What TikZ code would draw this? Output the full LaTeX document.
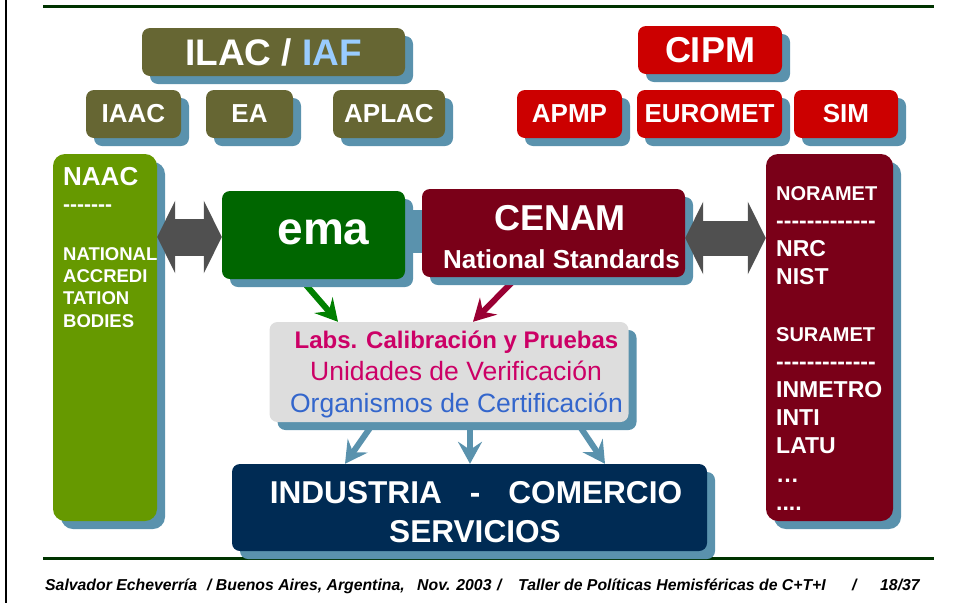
\documentclass[tikz,border=0pt]{standalone}
\usepackage{fontspec}
\setmainfont{Liberation Sans}[Ligatures=TeXOff]
\usetikzlibrary{arrows.meta,shadows,backgrounds}
\definecolor{olivebox}{RGB}{102,102,51}
\definecolor{shadowblue}{RGB}{90,146,173}
\definecolor{cipmred}{RGB}{204,0,0}
\definecolor{darkred}{RGB}{122,0,24}
\definecolor{emagreen}{RGB}{0,102,0}
\definecolor{naacgreen}{RGB}{102,153,0}
\definecolor{indnavy}{RGB}{0,43,84}
\definecolor{labgray}{RGB}{221,221,221}
\definecolor{labmagenta}{RGB}{204,0,102}
\definecolor{orgblue}{RGB}{51,102,204}
\definecolor{iafblue}{RGB}{153,204,255}
\definecolor{arrowgray}{RGB}{80,80,80}
\definecolor{rulegreen}{RGB}{0,51,0}
\definecolor{arrowgreen}{RGB}{0,128,0}
\definecolor{arrowred}{RGB}{153,0,51}
\newcommand{\fsz}[1]{\fontsize{#1}{#1}\selectfont}
\newcommand{\fourdots}{.\kern0pt.\kern0pt.\kern0pt.}
\newcommand{\fslash}{/}
\begin{document}
\begin{tikzpicture}[x=1pt,y=-1pt,
    box/.style = {rounded corners=8pt, inner sep=0pt, text=white,
                  drop shadow={shadow xshift=8pt,shadow yshift=-8pt,fill=shadowblue,opacity=1}},
    boxtext/.style = {text=white, inner sep=0pt},
    dblarrow/.style = {arrowgray, line width=#1,
                       {Triangle[length=18pt,width=72pt]}-{Triangle[length=18pt,width=72pt]}},
    arrow/.style = {line width=6pt, -{Stealth[length=22pt,width=24pt,inset=8pt]}}]
    \useasboundingbox (0,0) rectangle (956,603);

    % frame lines
    \draw[black, line width=2pt] (6,0) -- (6,603);
    \draw[rulegreen, line width=3pt] (43,6) -- (934,6);
    \draw[rulegreen, line width=3pt] (43,558) -- (934,558);

    % accreditation side
    \node[box, fill=olivebox, minimum width=263pt, minimum height=48pt, font=\bfseries\fsz{37}]
        (ilac) at (273.5,52) {ILAC / \textcolor{iafblue}{IAF}};
    \node[box, fill=olivebox, minimum width=95pt, minimum height=48pt, font=\bfseries\fsz{26}]
        (iaac) at (133.5,114) {IAAC};
    \node[box, fill=olivebox, minimum width=87pt, minimum height=48pt, font=\bfseries\fsz{26}]
        (ea) at (249.5,114) {EA};
    \node[box, fill=olivebox, minimum width=112pt, minimum height=48pt, font=\bfseries\fsz{26}]
        (aplac) at (389,114) {APLAC};

    % metrology side
    \node[box, fill=cipmred, minimum width=144pt, minimum height=48pt, font=\bfseries\fsz{36}]
        (cipm) at (710,50) {CIPM};
    \node[box, fill=cipmred, minimum width=105pt, minimum height=48pt, font=\bfseries\fsz{26}]
        (apmp) at (569.5,114) {APMP};
    \node[box, fill=cipmred, minimum width=145pt, minimum height=48pt, font=\bfseries\fsz{26}]
        (euromet) at (709.5,114) {EUROMET};
    \node[box, fill=cipmred, minimum width=104pt, minimum height=48pt, font=\bfseries\fsz{26}]
        (sim) at (846,114) {SIM};

    % main boxes
    \node[box, rounded corners=12pt, fill=naacgreen, minimum width=104pt, minimum height=367pt]
        (naac) at (105,337.5) {};
    \node[box, rounded corners=12pt, fill=darkred, minimum width=127pt, minimum height=367pt]
        (noramet) at (829.5,337.5) {};
    \node[box, fill=emagreen, minimum width=183pt, minimum height=88pt] (ema) at (313.5,235) {};
    \node[box, fill=darkred, minimum width=263pt, minimum height=88pt] (cenam) at (553.5,233) {};
    \node[box, fill=labgray, minimum width=359pt, minimum height=100pt] (labs) at (449,372) {};
    \node[box, fill=indnavy, minimum width=475pt, minimum height=87pt] (industria) at (469.5,507.5) {};

    % texts
    \node[boxtext, font=\bfseries\fsz{46}] (ematext) at (323.5,232) {ema};
    \node[boxtext, font=\bfseries\fsz{36}, anchor=base] (cenamtext) at (560,230) {CENAM};
    \node[boxtext, font=\bfseries\fsz{26}, anchor=base] (natstd) at (561.5,268) {National Standards};
    \node[inner sep=0pt, text=labmagenta, font=\bfseries\fsz{24}, anchor=base]
        (labsline) at (456.5,348) {Labs. Calibración y Pruebas};
    \node[inner sep=0pt, text=labmagenta, font=\fsz{26.5}, anchor=base]
        (uvline) at (456,380) {Unidades de Verificación};
    \node[inner sep=0pt, text=orgblue, font=\fsz{26.5}, anchor=base]
        (ocline) at (456.5,412) {Organismos de Certificación};
    \node[boxtext, font=\bfseries\fsz{31.6}, anchor=base] (indline)
        at (476,503) {INDUSTRIA\hspace{28pt}-\hspace{28pt}COMERCIO};
    \node[boxtext, font=\bfseries\fsz{31.6}, anchor=base] (servline) at (475,542) {SERVICIOS};

    \node[boxtext, font=\bfseries\fsz{26}, anchor=base west] (naactitle) at (63,185) {NAAC};
    \node[boxtext, font=\bfseries\fsz{21}, anchor=base west] (naacdash) at (63,211) {-------};
    \foreach \t [count=\i] in {NATIONAL,ACCREDI,TATION,BODIES}
        \node[boxtext, font=\bfseries\fsz{18.5}, anchor=base west] (nab-\i) at (63,{237.6+22.4*\i}) {\t};

    \foreach \t/\s [count=\i from 0] in {NORAMET/20,{-------------}/23,NRC/23,NIST/23,{}/23,
            SURAMET/20,{-------------}/23,INMETRO/23,INTI/23,LATU/23,{…}/23,{\fourdots}/23}
        \node[boxtext, font=\bfseries\fsz{\s}, anchor=base west] (rmo-\i) at (776,{200+28.2*\i}) {\t};

    % connectors
    \draw[dblarrow=37pt] ([yshift=-2pt]naac.east |- ema.west) -- ([yshift=-2pt]ema.west);
    \draw[dblarrow=35pt] ([yshift=-5pt]cenam.east) -- ([yshift=-5pt]cenam.east -| noramet.west);

    \begin{scope}[on background layer]
        \draw[shadowblue, line width=43pt] ([yshift=3.5pt]ema.east) -- ([yshift=3.5pt]ema.east -| cenam.west);
        \draw[arrow, arrowgreen] ([xshift=-12.5pt]ema.south) -- ([xshift=-111pt]labs.north);
        \draw[arrow, arrowred] ([xshift=-36.5pt]cenam.south) -- ([xshift=24pt]labs.north);
        \draw[arrow, shadowblue] ([xshift=-75pt]labs.south) -- ([xshift=-124.5pt]industria.north);
        \draw[arrow, shadowblue] ([xshift=21pt]labs.south) -- ([xshift=0.5pt]industria.north);
        \draw[arrow, shadowblue] ([xshift=128pt]labs.south) -- ([xshift=135.5pt]industria.north);
    \end{scope}

    % footer
    \foreach \x/\t [count=\i] in {45/Salvador Echeverría, 207/{\fslash{} Buenos Aires, Argentina,},
            417/Nov. 2003, 497/\fslash, 518/Taller de Políticas Hemisféricas de C+T+I, 852/\fslash, 880/{18\fslash37}}
        \node[inner sep=0pt, font=\bfseries\itshape\fsz{15.8}, anchor=base west] (foot-\i) at (\x,590) {\t};
\end{tikzpicture}
\end{document}
